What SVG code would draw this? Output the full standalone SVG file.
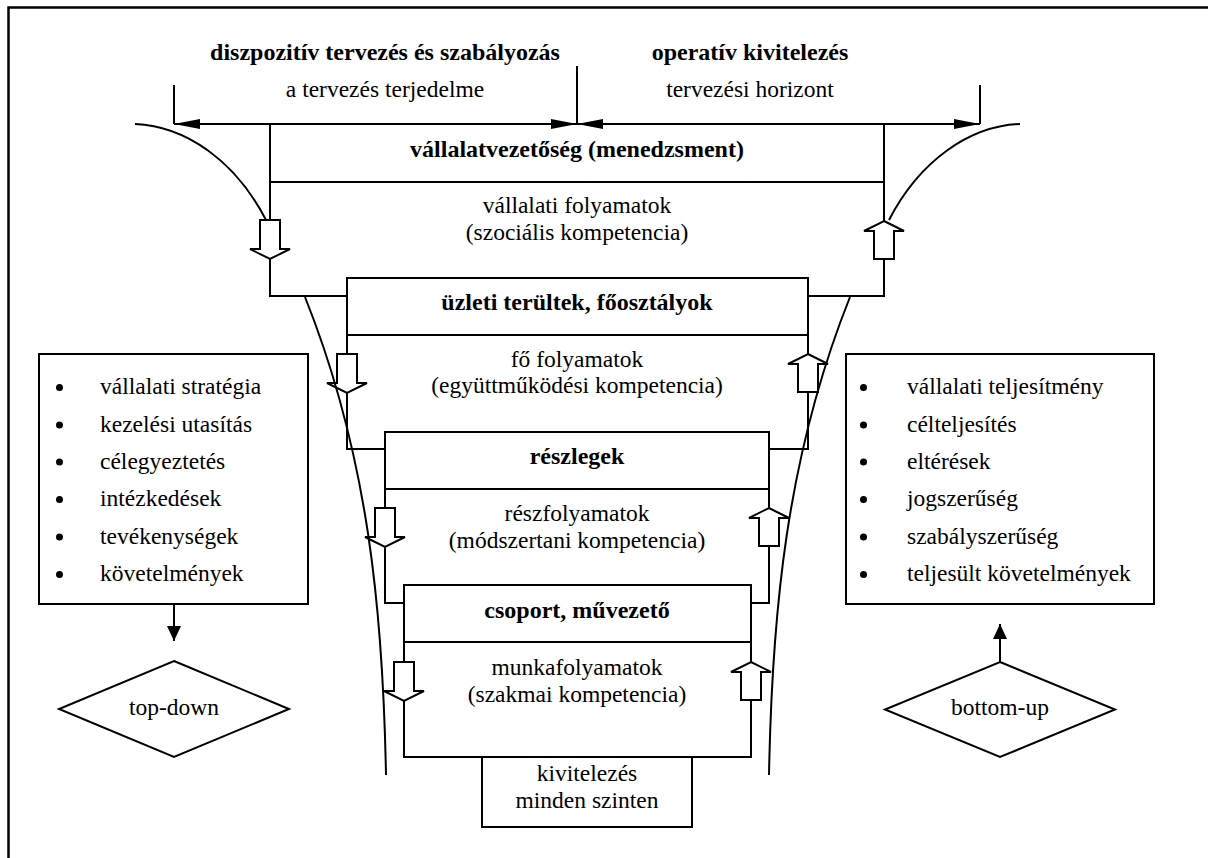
<svg xmlns="http://www.w3.org/2000/svg" xmlns:xlink="http://www.w3.org/1999/xlink" width="1215" height="858" viewBox="0 0 1215 858">
<style>
text{font-family:"Liberation Serif","Times New Roman",serif;fill:#000}
.r{font-size:23.5px}
.b{font-size:24px;font-weight:bold}
.m{text-anchor:middle}
.ln{fill:none;stroke:#000;stroke-width:2}
.box{fill:#fff;stroke:#000;stroke-width:2}
.blk{fill:#fff;stroke:#000;stroke-width:2;stroke-linejoin:miter}
.crv{fill:none;stroke:#000;stroke-width:2}
</style>
<defs>
<marker id="ah" markerUnits="userSpaceOnUse" markerWidth="27" markerHeight="12" refX="26" refY="5" orient="auto-start-reverse"><path d="M0,0 L26,5 L0,10 z" fill="#000"/></marker>
<marker id="sh" markerUnits="userSpaceOnUse" markerWidth="16" markerHeight="16" refX="15" refY="7" orient="auto"><path d="M0,0 L15,7 L0,14 z" fill="#000"/></marker>
<path id="dn" d="M-10,0 H10 V29 H20 L0,39 L-20,29 H-10 Z"/>
<path id="up" d="M0,0 L20,10 H10 V38 H-10 V10 H-20 Z"/>
</defs>
<rect width="1215" height="858" fill="#fff"/>
<path d="M8.5,858 V7.5 H1208" fill="none" stroke="#000" stroke-width="2.5"/>

<g id="header">
<text class="b m" x="385" y="60">diszpozitív tervezés és szabályozás</text>
<text class="r m" x="385" y="97">a tervezés terjedelme</text>
<text class="b m" x="750" y="60">operatív kivitelezés</text>
<text class="r m" x="750" y="97">tervezési horizont</text>
</g>

<g id="level1">
<path class="ln" d="M270,182 V296 H347 M884,182 V296 H808"/>
<rect class="box" x="270" y="124" width="614" height="58"/>
<text class="b m" x="577" y="157">vállalatvezetőség (menedzsment)</text>
<text class="r m" x="577" y="213">vállalati folyamatok</text>
<text class="r m" x="577" y="240">(szociális kompetencia)</text>
</g>

<g id="level2">
<path class="ln" d="M347,335 V449 H385 M808,335 V449 H769"/>
<rect class="box" x="347" y="278" width="461" height="57"/>
<text class="b m" x="577" y="310">üzleti terültek, főosztályok</text>
<text class="r m" x="577" y="367">fő folyamatok</text>
<text class="r m" x="577" y="393">(együttműködési kompetencia)</text>
</g>

<g id="level3">
<path class="ln" d="M385,489 V603 H404 M769,489 V603 H751"/>
<rect class="box" x="385" y="432" width="384" height="57"/>
<text class="b m" x="577" y="464">részlegek</text>
<text class="r m" x="577" y="521">részfolyamatok</text>
<text class="r m" x="577" y="548">(módszertani kompetencia)</text>
</g>

<g id="level4">
<rect class="box" x="404" y="585" width="347" height="172"/>
<path class="ln" d="M404,642 H751"/>
<text class="b m" x="577" y="618">csoport, művezető</text>
<text class="r m" x="577" y="675">munkafolyamatok</text>
<text class="r m" x="577" y="702">(szakmai kompetencia)</text>
</g>

<g id="execution">
<rect class="box" x="482" y="757" width="210" height="70"/>
<text class="r m" x="587" y="781">kivitelezés</text>
<text class="r m" x="587" y="808">minden szinten</text>
</g>

<g id="left-list">
<rect class="box" x="39" y="354" width="269" height="250"/>
<g fill="#000">
<circle cx="59.5" cy="387.5" r="3.5"/><circle cx="59.5" cy="425" r="3.5"/><circle cx="59.5" cy="462" r="3.5"/>
<circle cx="59.5" cy="499.5" r="3.5"/><circle cx="59.5" cy="537" r="3.5"/><circle cx="59.5" cy="574.5" r="3.5"/>
</g>
<text class="r" x="100" y="394">vállalati stratégia</text>
<text class="r" x="100" y="431.5">kezelési utasítás</text>
<text class="r" x="100" y="468.5">célegyeztetés</text>
<text class="r" x="100" y="506">intézkedések</text>
<text class="r" x="100" y="543.5">tevékenységek</text>
<text class="r" x="100" y="581">követelmények</text>
</g>

<g id="right-list">
<rect class="box" x="846" y="354" width="308" height="250"/>
<g fill="#000">
<circle cx="863.5" cy="387.5" r="3.5"/><circle cx="863.5" cy="425" r="3.5"/><circle cx="863.5" cy="462" r="3.5"/>
<circle cx="863.5" cy="499.5" r="3.5"/><circle cx="863.5" cy="537" r="3.5"/><circle cx="863.5" cy="574.5" r="3.5"/>
</g>
<text class="r" x="907" y="394">vállalati teljesítmény</text>
<text class="r" x="907" y="431.5">célteljesítés</text>
<text class="r" x="907" y="468.5">eltérések</text>
<text class="r" x="907" y="506">jogszerűség</text>
<text class="r" x="907" y="543.5">szabályszerűség</text>
<text class="r" x="907" y="581">teljesült követelmények</text>
</g>

<g id="top-down">
<polygon class="box" points="174,661 289,709 174,757 59,709"/>
<text class="r m" x="174" y="715">top-down</text>
</g>

<g id="bottom-up">
<polygon class="box" points="1000,662 1115,709.5 1000,757 885,709.5"/>
<text class="r m" x="1000" y="715">bottom-up</text>
</g>

<g id="connectors">
<path class="ln" d="M174,85 V124 M577,66 V124 M980,85 V124"/>
<path class="ln" d="M174,124 H577" marker-start="url(#ah)" marker-end="url(#ah)"/>
<path class="ln" d="M577,124 H980" marker-start="url(#ah)" marker-end="url(#ah)"/>
<path class="ln" d="M174,604 V641" marker-end="url(#sh)"/>
<path class="ln" d="M1000,662 V624" marker-end="url(#sh)"/>
<use href="#dn" class="blk" x="270" y="220"/>
<use href="#up" class="blk" x="884" y="221"/>
<use href="#dn" class="blk" x="347" y="354"/>
<use href="#up" class="blk" x="808" y="354"/>
<use href="#dn" class="blk" x="385" y="508"/>
<use href="#up" class="blk" x="769" y="508"/>
<use href="#dn" class="blk" x="404" y="662"/>
<use href="#up" class="blk" x="751" y="662"/>
<path class="crv" d="M135,124 C185,126 235,160 266,220"/>
<path class="crv" d="M1020,124 C970,126 920,160 889,220"/>
<path class="crv" d="M305,297 C369,457 383,615 386,775"/>
<path class="crv" d="M850,297 C786,457 772,615 769,775"/>
</g>
</svg>
